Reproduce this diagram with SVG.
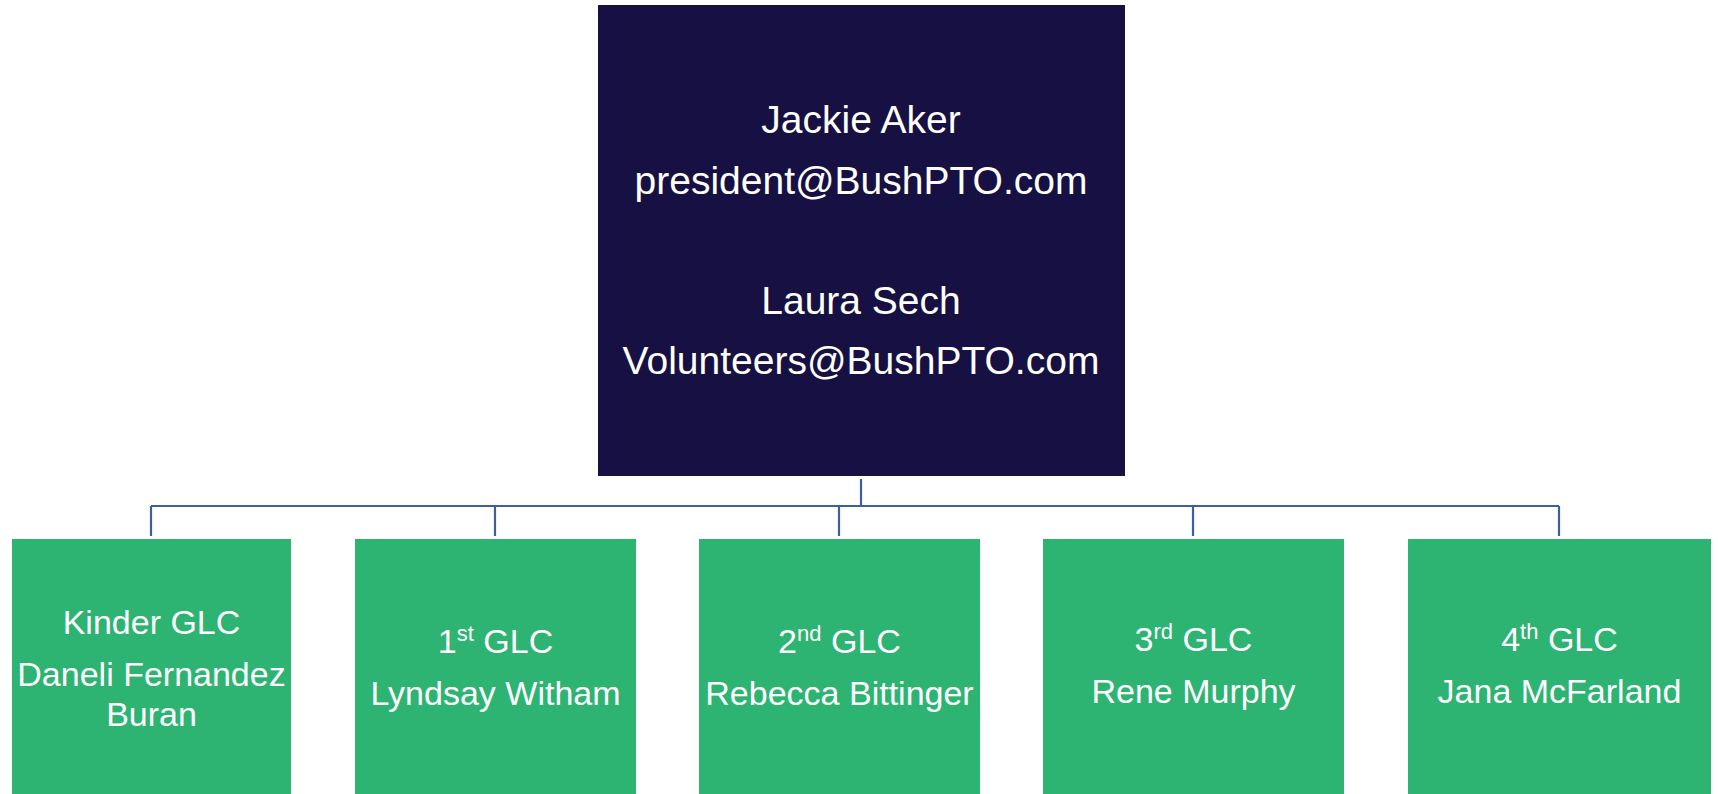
<svg xmlns="http://www.w3.org/2000/svg" width="1718" height="794" viewBox="0 0 1718 794">
<style>
.top{fill:#161142}
.grn{fill:#2db473}
.t{font-family:"Liberation Sans",Arial,sans-serif;fill:#ffffff;text-anchor:middle}
.big{font-size:39px}
.ttl{font-size:34px}
.nm{font-size:34px}
.sup{font-size:22px}
.conn{fill:none;stroke:#3c5ea6;stroke-width:2.2}
</style>
<rect width="1718" height="794" fill="#ffffff"/>
<g id="connectors">
<path class="conn" d="M861 479V506M151 506H1559M151 506V536M495 506V536M839 506V536M1193 506V536M1559 506V536"/>
</g>
<g id="node-top">
<rect class="top" x="598" y="5" width="527" height="471"/>
<text class="t big" x="861" y="133">Jackie Aker</text>
<text class="t big" x="861" y="194">president@BushPTO.com</text>
<text class="t big" x="861" y="314">Laura Sech</text>
<text class="t big" x="861" y="374">Volunteers@BushPTO.com</text>
</g>
<g id="node-kinder">
<rect class="grn" x="12" y="539" width="279" height="255"/>
<text class="t ttl" x="151.5" y="634">Kinder GLC</text>
<text class="t nm" x="151.5" y="686">Daneli Fernandez</text>
<text class="t nm" x="151.5" y="726">Buran</text>
</g>
<g id="node-1st">
<rect class="grn" x="355" y="539" width="281" height="255"/>
<text class="t ttl" x="495.5" y="653">1<tspan class="sup" dy="-12">st</tspan><tspan dy="12"> GLC</tspan></text>
<text class="t nm" x="495.5" y="705">Lyndsay Witham</text>
</g>
<g id="node-2nd">
<rect class="grn" x="699" y="539" width="281" height="255"/>
<text class="t ttl" x="839.5" y="653">2<tspan class="sup" dy="-12">nd</tspan><tspan dy="12"> GLC</tspan></text>
<text class="t nm" x="839.5" y="705">Rebecca Bittinger</text>
</g>
<g id="node-3rd">
<rect class="grn" x="1043" y="539" width="301" height="255"/>
<text class="t ttl" x="1193.5" y="651">3<tspan class="sup" dy="-12">rd</tspan><tspan dy="12"> GLC</tspan></text>
<text class="t nm" x="1193.5" y="703">Rene Murphy</text>
</g>
<g id="node-4th">
<rect class="grn" x="1408" y="539" width="303" height="255"/>
<text class="t ttl" x="1559.5" y="651">4<tspan class="sup" dy="-12">th</tspan><tspan dy="12"> GLC</tspan></text>
<text class="t nm" x="1559.5" y="703">Jana McFarland</text>
</g>
</svg>
